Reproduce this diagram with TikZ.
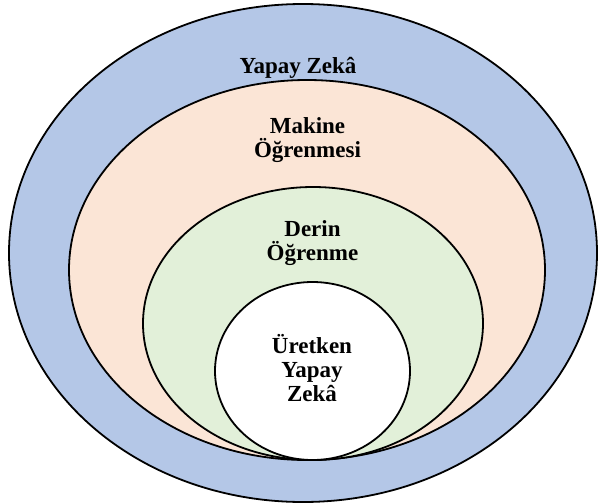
\documentclass[tikz,border=0pt]{standalone}
\usepackage{fontspec}
\setmainfont{Liberation Serif}
\definecolor{ybl}{RGB}{180,199,231}
\definecolor{mpe}{RGB}{251,229,214}
\definecolor{dgr}{RGB}{226,240,217}
\begin{document}
\begin{tikzpicture}[x=1pt,y=-1pt,
  ring/.style={draw=black,line width=1.8pt},
  lbl/.style={font=\fontsize{23}{24}\selectfont\bfseries,align=center,inner sep=0pt}]
\useasboundingbox (0,0) rectangle (598,504);
\fill[white] (0,0) rectangle (598,504);
\draw[ring,fill=ybl] (303,253) ellipse [x radius=294, y radius=249];
\draw[ring,fill=mpe] (307,270) ellipse [x radius=238, y radius=190];
\draw[ring,fill=dgr] (313,323.5) ellipse [x radius=170, y radius=136.5];
\draw[ring,fill=white] (312.5,371) ellipse [x radius=97.5, y radius=89];
\node[lbl,anchor=base] (yz) at (298,73) {Yapay Zekâ};
\node[lbl] (mo) at (307.5,140.5) {Makine\\Öğrenmesi};
\node[lbl] (do) at (312.5,243) {Derin\\Öğrenme};
\node[lbl] (uy) at (312,368) {Üretken\\Yapay\\Zekâ};
\end{tikzpicture}
\end{document}
